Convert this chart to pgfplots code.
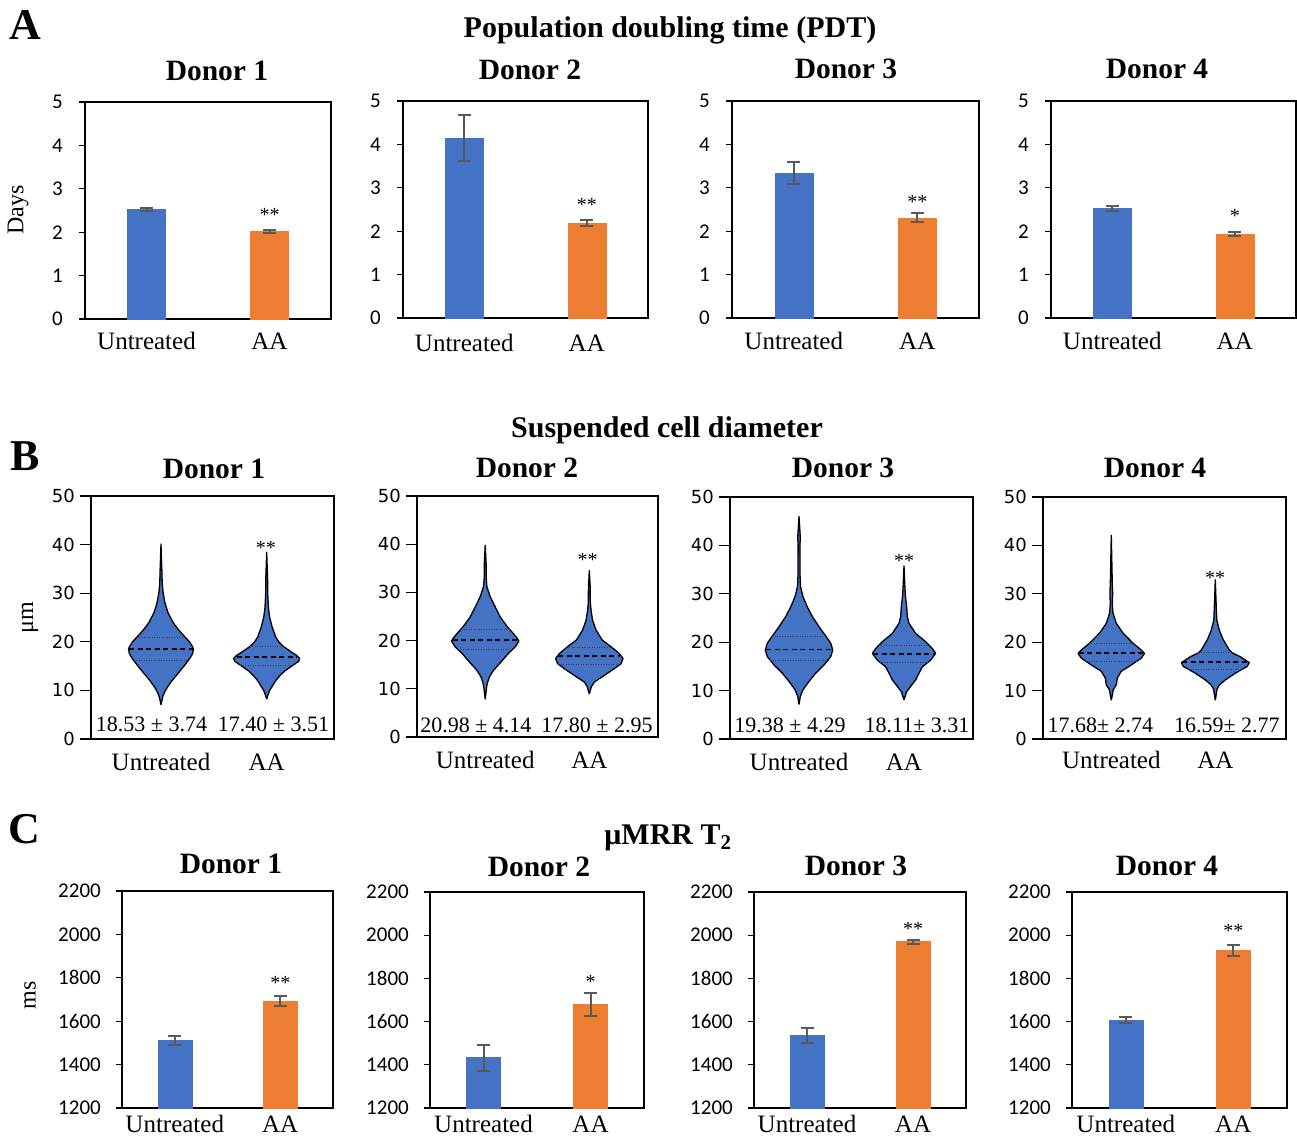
\documentclass[border=0pt]{standalone}
\usepackage{fontspec}
\setmainfont{Liberation Serif}
\newfontfamily\calfont{Carlito}
\newfontfamily\dvfont{DejaVu Sans}
\usepackage{pgfplots}
\pgfplotsset{compat=1.18}
\usepackage{pgfplotstable}

\definecolor{cblue}{HTML}{4472C4}
\definecolor{corange}{HTML}{ED7D31}
\definecolor{errgray}{HTML}{595959}

\newcommand{\tickfont}{\calfont\fontsize{21}{23}\selectfont}
\newcommand{\vtickfont}{\dvfont\fontsize{18}{20}\selectfont}
\newcommand{\catfont}{\fontsize{25}{28}\selectfont}
\newcommand{\titlefont}{\bfseries\fontsize{29.5}{32}\selectfont}
\newcommand{\maintitlefont}{\bfseries\fontsize{30}{33}\selectfont}
\newcommand{\letterfont}{\bfseries\fontsize{44}{48}\selectfont}
\newcommand{\statfont}{\fontsize{22}{24}\selectfont}
\newcommand{\starfont}{\fontsize{20}{22}\selectfont}
\newcommand{\ylabfont}{\fontsize{24}{26}\selectfont}

% violin outlines as closed loops: y (um), signed half width w (px)
\pgfplotstableread{
y w
7.05 0
8 1
9 2.2
10 4.5
11 7.5
12 11
13 15
14 19
15 23
16.5 28.5
17.5 31.5
18.5 32.5
19 31.5
20 28.5
21 24
22 19.5
23 15.5
24 12
25 9.5
26 7
28 4
30 2.2
32 1.2
34 1.0
40.1 0
34 -1.0
32 -1.2
30 -2.2
28 -4
26 -7
25 -9.5
24 -12
23 -15.5
22 -19.5
21 -24
20 -28.5
19 -31.5
18.5 -32.5
17.5 -31.5
16.5 -28.5
15 -23
14 -19
13 -15
12 -11
11 -7.5
10 -4.5
9 -2.2
8 -1
7.05 0
}\vOneU
\pgfplotstableread{
y w
8.2 0
9 1.2
10 3
11 6
12 9
13 13
14 18
15 25
16 32
16.6 33
17.2 30
18 24
19 17
20 12
21 9
23 5.5
25 3
27 1.7
30 1.0
33 0.9
38.4 0
33 -0.9
30 -1.0
27 -1.7
25 -3
23 -5.5
21 -9
20 -12
19 -17
18 -24
17.2 -30
16.6 -33
16 -32
15 -25
14 -18
13 -13
12 -9
11 -6
10 -3
9 -1.2
8.2 0
}\vOneA
\pgfplotstableread{
y w
7.8 0
9.7 1
11.1 2
12.5 4.3
13.9 8.5
15.6 16
17.3 23
18.7 30
19.9 33.7
20.5 32
21.5 28
22.9 22
24.9 15
27.0 10
29.1 5
31.2 1.7
33 1.0
36 0.9
39.8 0
36 -0.9
33 -1.0
31.2 -1.7
29.1 -5
27.0 -10
24.9 -15
22.9 -22
21.5 -28
20.5 -32
19.9 -33.7
18.7 -30
17.3 -23
15.6 -16
13.9 -8.5
12.5 -4.3
11.1 -2
9.7 -1
7.8 0
}\vTwoU
\pgfplotstableread{
y w
8.9 0
10.4 2
11.4 5
12.5 13
13.9 23
15.2 31.7
16.3 33.7
17.3 30
18.7 22
20.1 13
22.2 6.7
24.2 3.3
26.3 1.7
28 1.0
31 0.9
34.5 0
31 -0.9
28 -1.0
26.3 -1.7
24.2 -3.3
22.2 -6.7
20.1 -13
18.7 -22
17.3 -30
16.3 -33.7
15.2 -31.7
13.9 -23
12.5 -13
11.4 -5
10.4 -2
8.9 0
}\vTwoA
\pgfplotstableread{
y w
7.1 0
8.8 1.3
10.2 4
11.9 10
13.6 16.7
15.3 25
17.0 31.7
18.4 33.7
19.8 31.7
21.2 27
23.2 20
25.3 13.3
27.3 8.3
29.4 4
31.5 1.5
34 1.0
40 0.9
41.5 1.3
43 0.9
46 0
43 -0.9
41.5 -1.3
40 -0.9
34 -1.0
31.5 -1.5
29.4 -4
27.3 -8.3
25.3 -13.3
23.2 -20
21.2 -27
19.8 -31.7
18.4 -33.7
17.0 -31.7
15.3 -25
13.6 -16.7
11.9 -10
10.2 -4
8.8 -1.3
7.1 0
}\vThreeU
\pgfplotstableread{
y w
8.1 0
9.8 2.7
10.9 6.7
12.2 11.7
13.6 15
14.9 18.3
16.3 26.7
17.7 31.7
18.7 28.3
20.1 21.7
21.8 11.7
23.9 5
25.3 3.3
27.3 2.7
29.4 1.5
31 1.0
35.8 0
31 -1.0
29.4 -1.5
27.3 -2.7
25.3 -3.3
23.9 -5
21.8 -11.7
20.1 -21.7
18.7 -28.3
17.7 -31.7
16.3 -26.7
14.9 -18.3
13.6 -15
12.2 -11.7
10.9 -6.7
9.8 -2.7
8.1 0
}\vThreeA
\pgfplotstableread{
y w
8.0 0
10.2 2
11.2 5
12.6 6
14.0 10
15.3 20
16.7 30
17.7 33.3
18.4 30
19.8 21.7
21.9 11.7
23.9 5
26.0 1.7
28 1.0
30 1.4
32 1.0
42.1 0
32 -1.0
30 -1.4
28 -1.0
26.0 -1.7
23.9 -5
21.9 -11.7
19.8 -21.7
18.4 -30
17.7 -33.3
16.7 -30
15.3 -20
14.0 -10
12.6 -6
11.2 -5
10.2 -2
8.0 0
}\vFourU
\pgfplotstableread{
y w
8.0 0
10.3 1.7
11.2 4.3
12.2 10
13.6 20
15.0 32
15.8 34
17.0 25
17.8 17
18.4 14
20.5 8
22.5 4
24.6 1.5
27 1.0
32.9 0
27 -1.0
24.6 -1.5
22.5 -4
20.5 -8
18.4 -14
17.8 -17
17.0 -25
15.8 -34
15.0 -32
13.6 -20
12.2 -10
11.2 -4.3
10.3 -1.7
8.0 0
}\vFourA

% #1 table, #2 centre (axis units), #3 axis width (px)
\newcommand{\violin}[3]{%
 \addplot[fill=cblue, draw=black, line width=1.3pt, line join=round] table[x expr={#2+\thisrow{w}/#3}, y=y]{#1};
}

\pgfplotsset{
 panel/.style={scale only axis, axis line style={line width=1.3pt},
   tick style={line width=1.2pt, black}, tick align=outside,
   ytick pos=left, xtick pos=bottom, xtick style={draw=none},
   /pgf/number format/assume math mode=true, /pgf/number format/1000 sep={},
   xticklabels={Untreated,AA}, xticklabel style={font=\catfont, anchor=center}},
 barA/.style={panel, xmin=-0.5, xmax=1.5, xtick={0,1}, ymin=0, ymax=5, ytick={0,1,2,3,4,5},
   major tick length=6pt,
   yticklabel style={font=\tickfont, anchor=east, inner sep=0pt, xshift=-16pt},
   xticklabel style={yshift=-16pt}},
 barC/.style={panel, xmin=-0.5, xmax=1.5, xtick={0,1}, ymin=1200, ymax=2200, ytick={1200,1400,...,2200},
   major tick length=6pt,
   yticklabel style={font=\tickfont, anchor=east, inner sep=0pt, xshift=-15pt},
   xticklabel style={yshift=-10pt}},
 vio/.style={panel, xmin=0, xmax=1, ymin=0, ymax=50, ytick={0,10,...,50},
   major tick length=11pt,
   yticklabel style={font=\vtickfont, anchor=east, inner sep=0pt, xshift=-5pt},
   xticklabel style={yshift=-12pt}},
 ebar/.style={error bars/.cd, y dir=both, y explicit,
   error bar style={draw=errgray, line width=2pt},
   error mark options={draw=errgray, line width=2pt, mark size=6.5pt, rotate=90}},
 ubar/.style={ybar, bar width=#1, bar shift=0pt, fill=cblue, draw=cblue, line width=0.4pt, ebar},
 abar/.style={ybar, bar width=#1, bar shift=0pt, fill=corange, draw=corange, line width=0.4pt, ebar},
 med/.style={black, line width=1.8pt, dash pattern=on 5pt off 3.5pt},
 qrt/.style={black!75, line width=0.8pt, dash pattern=on 1pt off 1.5pt},
}
\tikzset{starnode/.style={font=\starfont, anchor=center, inner sep=0pt, yshift=-3.2pt},
 statnode/.style={font=\statfont, anchor=center, inner sep=0pt}}

\begin{document}
\begin{tikzpicture}
\useasboundingbox (0,0) rectangle (1297pt,-1137pt);

% ---------------- Row A ----------------
\begin{axis}[barA, at={(85pt,-319pt)}, anchor=south west, width=246pt, height=217pt]
\addplot[ubar=38pt] coordinates {(0,2.53) +- (0,0.03)};
\addplot[abar=38pt] coordinates {(1,2.02) +- (0,0.04)};
\node[starnode] at (axis cs:1,2.48) {**};
\end{axis}
\begin{axis}[barA, at={(403pt,-318pt)}, anchor=south west, width=245pt, height=217pt, xticklabel style={yshift=-3pt}]
\addplot[ubar=38pt] coordinates {(0,4.15) +- (0,0.53)};
\addplot[abar=38pt] coordinates {(1,2.19) +- (0,0.07)};
\node[starnode] at (axis cs:1,2.68) {**};
\end{axis}
\begin{axis}[barA, at={(732pt,-318pt)}, anchor=south west, width=247pt, height=217pt, xticklabel style={yshift=-1pt}]
\addplot[ubar=38pt] coordinates {(0,3.34) +- (0,0.26)};
\addplot[abar=38pt] coordinates {(1,2.31) +- (0,0.10)};
\node[starnode] at (axis cs:1,2.74) {**};
\end{axis}
\begin{axis}[barA, at={(1051pt,-318pt)}, anchor=south west, width=245pt, height=217pt, xticklabel style={yshift=-1pt}]
\addplot[ubar=38pt] coordinates {(0,2.52) +- (0,0.06)};
\addplot[abar=38pt] coordinates {(1,1.94) +- (0,0.045)};
\node[starnode] at (axis cs:1,2.42) {*};
\end{axis}

% ---------------- Row B ----------------
\begin{axis}[vio, at={(91pt,-739pt)}, anchor=south west, width=243pt, height=243pt, xtick={0.288,0.723}]
\violin{\vOneU}{0.288}{243}
\violin{\vOneA}{0.723}{243}
\addplot[med] coordinates {(0.158,18.5) (0.418,18.5)};
\addplot[qrt] coordinates {(0.188,20.9) (0.388,20.9)};
\addplot[qrt] coordinates {(0.175,16.1) (0.401,16.1)};
\addplot[med] coordinates {(0.599,16.9) (0.847,16.9)};
\addplot[qrt] coordinates {(0.653,19.0) (0.793,19.0)};
\addplot[qrt] coordinates {(0.614,15.2) (0.832,15.2)};
\node[statnode] at (axis cs:0.249,3.1) {18.53 ± 3.74};
\node[statnode] at (axis cs:0.751,3.1) {17.40 ± 3.51};
\node[starnode] at (axis cs:0.72,39.9) {**};
\end{axis}
\begin{axis}[vio, at={(417pt,-737pt)}, anchor=south west, width=241pt, height=241pt, xtick={0.283,0.715}]
\violin{\vTwoU}{0.283}{241}
\violin{\vTwoA}{0.715}{241}
\addplot[med] coordinates {(0.148,20.1) (0.418,20.1)};
\addplot[qrt] coordinates {(0.183,22.4) (0.383,22.4)};
\addplot[qrt] coordinates {(0.171,18.1) (0.395,18.1)};
\addplot[med] coordinates {(0.586,16.8) (0.844,16.8)};
\addplot[qrt] coordinates {(0.621,18.6) (0.809,18.6)};
\addplot[qrt] coordinates {(0.586,15.1) (0.844,15.1)};
\node[statnode] at (axis cs:0.244,2.5) {20.98 ± 4.14};
\node[statnode] at (axis cs:0.747,2.5) {17.80 ± 2.95};
\node[starnode] at (axis cs:0.708,37.4) {**};
\end{axis}
\begin{axis}[vio, at={(730pt,-739pt)}, anchor=south west, width=243pt, height=242pt, xtick={0.284,0.716}]
\violin{\vThreeU}{0.284}{243}
\violin{\vThreeA}{0.716}{243}
\addplot[med] coordinates {(0.150,18.5) (0.418,18.5)};
\addplot[qrt] coordinates {(0.173,21.2) (0.395,21.2)};
\addplot[qrt] coordinates {(0.165,16.3) (0.403,16.3)};
\addplot[med] coordinates {(0.590,17.6) (0.841,17.6)};
\addplot[qrt] coordinates {(0.613,19.4) (0.819,19.4)};
\addplot[qrt] coordinates {(0.616,15.9) (0.816,15.9)};
\node[statnode] at (axis cs:0.247,2.9) {19.38 ± 4.29};
\node[statnode] at (axis cs:0.77,2.9) {18.11± 3.31};
\node[starnode] at (axis cs:0.716,37.5) {**};
\end{axis}
\begin{axis}[vio, at={(1043pt,-739pt)}, anchor=south west, width=243pt, height=242pt, xtick={0.281,0.709}, xticklabel style={yshift=2pt}]
\violin{\vFourU}{0.281}{243.3}
\violin{\vFourA}{0.709}{243.3}
\addplot[med] coordinates {(0.148,17.7) (0.414,17.7)};
\addplot[qrt] coordinates {(0.189,19.7) (0.373,19.7)};
\addplot[qrt] coordinates {(0.178,16.0) (0.384,16.0)};
\addplot[med] coordinates {(0.573,15.9) (0.845,15.9)};
\addplot[qrt] coordinates {(0.639,17.8) (0.779,17.8)};
\addplot[qrt] coordinates {(0.598,14.4) (0.820,14.4)};
\node[statnode] at (axis cs:0.236,2.9) {17.68± 2.74};
\node[statnode] at (axis cs:0.757,2.9) {16.59± 2.77};
\node[starnode] at (axis cs:0.708,33.9) {**};
\end{axis}

% ---------------- Row C ----------------
\begin{axis}[barC, at={(122pt,-1108pt)}, anchor=south west, width=211pt, height=217pt]
\addplot[ubar=34pt] coordinates {(0,1513) +- (0,21)};
\addplot[abar=34pt] coordinates {(1,1694) +- (0,24)};
\node[starnode] at (axis cs:1,1790) {**};
\end{axis}
\begin{axis}[barC, at={(430pt,-1108pt)}, anchor=south west, width=214pt, height=216pt]
\addplot[ubar=34pt] coordinates {(0,1433) +- (0,60)};
\addplot[abar=34pt] coordinates {(1,1679) +- (0,53)};
\node[starnode] at (axis cs:1,1797) {*};
\end{axis}
\begin{axis}[barC, at={(754pt,-1108pt)}, anchor=south west, width=212pt, height=216pt]
\addplot[ubar=34pt] coordinates {(0,1536) +- (0,35)};
\addplot[abar=34pt] coordinates {(1,1970) +- (0,9)};
\node[starnode] at (axis cs:1,2042) {**};
\end{axis}
\begin{axis}[barC, at={(1072pt,-1108pt)}, anchor=south west, width=215pt, height=216pt]
\addplot[ubar=34pt] coordinates {(0,1608) +- (0,14)};
\addplot[abar=34pt] coordinates {(1,1930) +- (0,26)};
\node[starnode] at (axis cs:1,2034) {**};
\end{axis}

% ---------------- Titles ----------------
\node[font=\letterfont] at (25pt,-25pt) {A};
\node[font=\letterfont] at (25pt,-456pt) {B};
\node[font=\letterfont] at (24pt,-829pt) {C};

\node[font=\maintitlefont] at (670pt,-30pt) {Population doubling time (PDT)};
\node[font=\titlefont] at (217pt,-71pt) {Donor 1};
\node[font=\titlefont] at (530pt,-70pt) {Donor 2};
\node[font=\titlefont] at (846pt,-69pt) {Donor 3};
\node[font=\titlefont] at (1157pt,-69pt) {Donor 4};

\node[font=\maintitlefont] at (667pt,-430pt) {Suspended cell diameter};
\node[font=\titlefont] at (214pt,-469pt) {Donor 1};
\node[font=\titlefont] at (527pt,-468pt) {Donor 2};
\node[font=\titlefont] at (843pt,-468pt) {Donor 3};
\node[font=\titlefont] at (1155pt,-468pt) {Donor 4};

\node[font=\maintitlefont] at (668pt,-838pt) {μMRR T\textsubscript{2}};
\node[font=\titlefont] at (231pt,-864pt) {Donor 1};
\node[font=\titlefont] at (539pt,-867pt) {Donor 2};
\node[font=\titlefont] at (856pt,-866pt) {Donor 3};
\node[font=\titlefont] at (1167pt,-866pt) {Donor 4};

\node[font=\ylabfont, rotate=90] at (18pt,-210pt) {Days};
\node[font=\ylabfont, rotate=90] at (30pt,-618pt) {μm};
\node[font=\ylabfont, rotate=90] at (30pt,-995pt) {ms};
\end{tikzpicture}
\end{document}
